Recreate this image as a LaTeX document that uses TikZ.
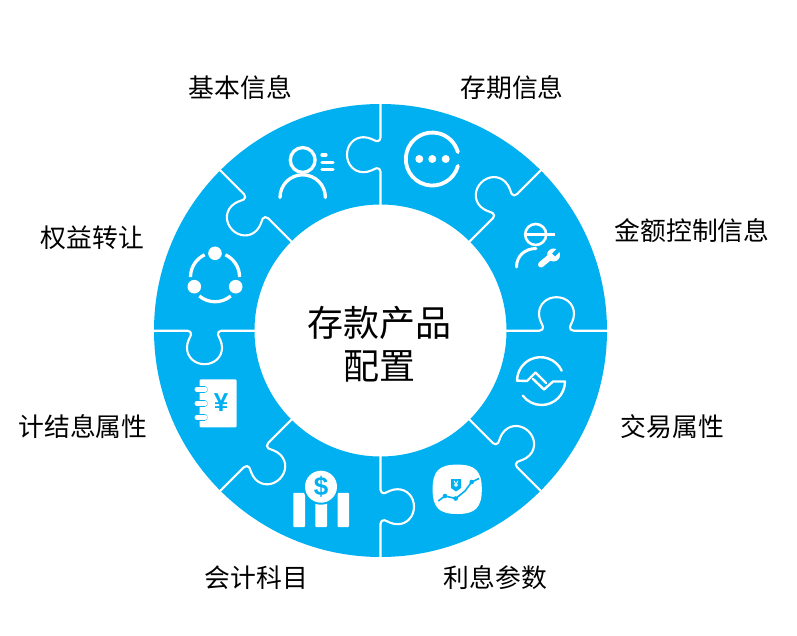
\documentclass[tikz,border=0pt]{standalone}
\usepackage{fontspec}
\setmainfont{Noto Sans CJK SC}
\newfontfamily\latinb{Liberation Sans}
\definecolor{ringblue}{RGB}{0,176,240}
\tikzset{
  seam/.style={draw=white,line width=2.1pt,line join=round},
  iconline/.style={draw=white,line width=3.3pt,line cap=round},
  iconbutt/.style={draw=white,line width=3.3pt},
  iconfill/.style={fill=white,draw=none},
  blueline/.style={draw=ringblue,line width=1.6pt},
  label/.style={font=\fontsize{25.8}{30}\selectfont,text=black,inner sep=0pt},
  title/.style={font=\fontsize{36}{42}\selectfont,text=black,inner sep=0pt}
}
\begin{document}
\begin{tikzpicture}[x=1pt,y=1pt,yscale=-1]
\useasboundingbox (0,0) rectangle (797,636);
% ring
\fill[ringblue,even odd rule] (380.5,330.5) circle (226.5) (380.5,330.5) circle (126);
% puzzle seams
\foreach \k in {0,...,7}{
  \draw[seam,shift={(380.5,330.7)},rotate=\k*45]
    (125,0) -- (159,0)
    .. controls (161.5,0) and (163,-2) .. (162.5,-4)
    .. controls (161.5,-7) and (158.5,-11) .. (158.5,-17)
    .. controls (158.5,-26.7) and (166.4,-33.5) .. (176,-33.5)
    .. controls (185.6,-33.5) and (193.5,-26.7) .. (193.5,-17)
    .. controls (193.5,-11) and (190.5,-7) .. (189.5,-4)
    .. controls (189,-2) and (190.5,0) .. (193,0)
    -- (228,0);
}
% user icon
\draw[iconline] (302.7,160) circle (12.4);
\draw[iconline] (280,197.5) arc (180:360:22.7);
\draw[iconline] (322,155) -- (326,155);
\draw[iconline] (322,162.3) -- (333,162.3);
\draw[iconline] (322,169.3) -- (333,169.3);
% dial icon
\draw[iconline,line width=3.8pt] (457.9,165.9) arc (15:345:26.5);
\fill[white] (419.3,159) circle (4) (432.3,159) circle (4) (445.7,159) circle (4);
% engineer icon
\draw[draw=white,line width=2.6pt] (535.7,234.5) circle (10.5);
\draw[draw=white,line width=2.6pt] (525,234.5) -- (555,234.5);
\draw[draw=white,line width=3pt,line cap=round] (516.5,267) .. controls (516.5,256) and (525,248.5) .. (536,248.5);
\draw[draw=white,line width=6pt,line cap=round] (541,264.5) -- (552,255.5);
\fill[white] (553.5,255) circle (6.5);
\draw[draw=ringblue,line width=4pt] (553.5,255) -- (561,247.5);
% exchange icon
\draw[draw=white,line width=2.4pt,line join=round,line cap=round]
  (561.7,370.7) arc (-25:-180:23.4) -- (527,381) -- (535.5,372.5) -- (546,383);
\draw[draw=white,line width=2.4pt,line join=round,line cap=round]
  (533,379) -- (544,389.5) -- (553,381.5) -- (565,381.5) arc (0:143:23.5);
% coin chart square icon
\fill[white] (432.6,489.3)
  .. controls (432.6,471) and (439,464.6) .. (457.2,464.6)
  .. controls (475.4,464.6) and (481.8,471) .. (481.8,489.3)
  .. controls (481.8,507.6) and (475.4,514) .. (457.2,514)
  .. controls (439,514) and (432.6,507.6) .. (432.6,489.3) -- cycle;
\fill[ringblue] (451,479) -- (461,479) -- (461,488) -- (456,491.5) -- (451,488) -- cycle;
\node (yenshield) at (456,484.7) [inner sep=0pt,text=white,font=\latinb\bfseries\fontsize{9}{9}\selectfont] {¥};
\draw[blueline,line join=round] (438.3,501) -- (445,496) -- (455.7,498.5) -- (465,491) -- (471.7,482) -- (479,478.5);
\fill[ringblue] (445,496) circle (2.3) (455.7,498.5) circle (2.3) (471.7,482) circle (2.3);
% bars and dollar icon
\fill[white,rounded corners=0.8] (293.3,492.8) rectangle (305,527);
\fill[white,rounded corners=0.8] (315.3,495) rectangle (327,527);
\fill[white,rounded corners=0.8] (337.5,492.8) rectangle (349,527);
\fill[ringblue] (321,486.7) circle (18);
\fill[white] (321,486.7) circle (16);
\node (dollar) at (321,486.5) [inner sep=0pt,text=ringblue,font=\latinb\bfseries\fontsize{26}{26}\selectfont] {\$};
% notebook icon
\fill[white,rounded corners=1.2] (199.5,379.3) rectangle (236.7,427.3);
\foreach \yy in {389.3,403.3,417.3}{
  \draw[draw=ringblue,line width=7.5pt,line cap=round] (198,\yy) -- (204,\yy);
  \draw[draw=white,line width=5pt,line cap=round] (197,\yy) -- (205,\yy);
}
\node (yen) at (221,402.7) [inner sep=0pt,text=ringblue,font=\latinb\bfseries\fontsize{26}{26}\selectfont] {¥};
% share icon
\fill[white] (215,253.3) circle (6.8) (194.3,286.7) circle (6.8) (235.7,286.7) circle (6.8);
\draw[iconbutt] (190.5,277) arc (180:245:24.5);
\draw[iconbutt] (225.4,254.8) arc (295:360:24.5);
\draw[iconbutt] (199.3,296) arc (130:50:24.5);
% labels
\node[label] (l1) at (240.5,88) {基本信息};
\node[label] (l2) at (512,88) {存期信息};
\node[label] (l3) at (692,231) {金额控制信息};
\node[label] (l4) at (672.5,427) {交易属性};
\node[label] (l5) at (495.5,578) {利息参数};
\node[label] (l6) at (256.5,578) {会计科目};
\node[label] (l7) at (83,427) {计结息属性};
\node[label] (l8) at (92.5,238) {权益转让};
\node[title] (t1) at (379.3,323) {存款产品};
\node[title] (t2) at (379.5,366) {配置};
\end{tikzpicture}
\end{document}
